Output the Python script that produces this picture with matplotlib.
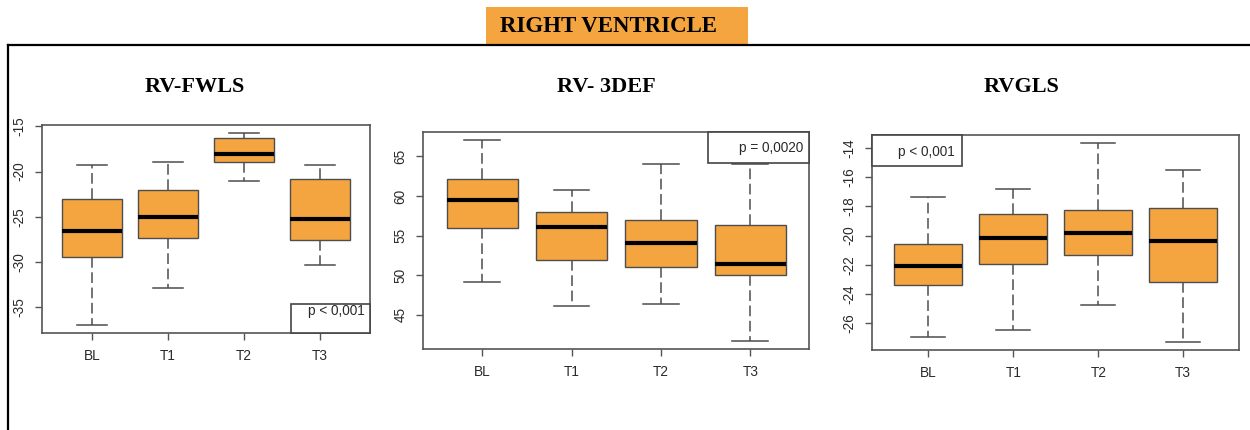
import matplotlib
matplotlib.use('Agg')
import matplotlib.pyplot as plt
from matplotlib.patches import Rectangle
from matplotlib.lines import Line2D

# time points
groups = ['BL', 'T1', 'T2', 'T3']

# RV-FWLS
fwls_whislo = [-37.0, -32.9, -21.0, -30.3]
fwls_q1 = [-29.4, -27.3, -18.95, -27.6]
fwls_med = [-26.6, -25.0, -18.0, -25.2]
fwls_q3 = [-23.0, -22.05, -16.25, -20.8]
fwls_whishi = [-19.3, -18.95, -15.7, -19.3]

# RV- 3DEF
def_whislo = [49.1, 46.05, 46.35, 41.7]
def_q1 = [56.0, 51.9, 51.0, 50.0]
def_med = [59.45, 56.04, 54.05, 51.4]
def_q3 = [62.2, 57.97, 57.0, 56.4]
def_whishi = [67.1, 60.8, 64.1, 64.1]

# RVGLS
gls_whislo = [-26.97, -26.49, -24.78, -27.29]
gls_q1 = [-23.36, -21.95, -21.3, -23.2]
gls_med = [-22.1, -20.17, -19.83, -20.4]
gls_q3 = [-20.55, -18.52, -18.23, -18.11]
gls_whishi = [-17.36, -16.79, -13.66, -15.53]

titles = ['RV-FWLS', 'RV- 3DEF', 'RVGLS']
pvals = ['p < 0,001', 'p = 0,0020', 'p < 0,001']
yticks = [[-15, -20, -25, -30, -35],
          [65, 60, 55, 50, 45],
          [-14, -16, -18, -20, -22, -24, -26]]

orange = '#f4a540'
W, H = 1250.0, 430.0


def make_stats(lo, q1, med, q3, hi):
    stats = []
    for i in range(len(groups)):
        stats.append({'label': groups[i], 'whislo': lo[i], 'q1': q1[i],
                      'med': med[i], 'q3': q3[i], 'whishi': hi[i], 'fliers': []})
    return stats


def px(x0, y0, x1, y1):
    # pixel box -> figure fraction rect
    return [x0 / W, 1 - y1 / H, (x1 - x0) / W, (y1 - y0) / H]


fig = plt.figure(figsize=(12.5, 4.3), dpi=100)

# outer frame and header
fig.add_artist(Line2D([8 / W, 1.0], [1 - 44.5 / H] * 2, color='black', lw=1.6))
fig.add_artist(Line2D([8 / W] * 2, [0, 1 - 44.5 / H], color='black', lw=1.6))
fig.add_artist(Rectangle((486 / W, 1 - 44 / H), 262 / W, 37.3 / H,
                         facecolor=orange, edgecolor='none'))
fig.text(608 / W, 1 - 26.5 / H, 'RIGHT VENTRICLE', ha='center', va='center',
         fontsize=16.5, fontweight='bold', family='Liberation Serif')

panels = [
    (make_stats(fwls_whislo, fwls_q1, fwls_med, fwls_q3, fwls_whishi), px(42, 125, 370, 333)),
    (make_stats(def_whislo, def_q1, def_med, def_q3, def_whishi), px(423.3, 131.7, 809.3, 349)),
    (make_stats(gls_whislo, gls_q1, gls_med, gls_q3, gls_whishi), px(872.3, 135, 1239.3, 350)),
]
title_x = [195, 606, 1022]

# p-value box: (x0, y0, w, h) in axes fraction, text x, text y
pbox = [
    ((0.758, 0.0, 0.242, 0.141), 0.985, 0.107),
    ((0.738, 0.857, 0.262, 0.143), 0.984, 0.926),
    ((0.0, 0.857, 0.245, 0.143), 0.225, 0.922),
]

for k, (stats, rect) in enumerate(panels):
    ax = fig.add_axes(rect)
    ax.bxp(stats, positions=[1, 2, 3, 4], widths=0.8, capwidths=0.4,
           patch_artist=True, showfliers=False,
           boxprops=dict(facecolor=orange, edgecolor='#4d4d4d', lw=1.0),
           medianprops=dict(color='black', lw=3.0, solid_capstyle='butt'),
           whiskerprops=dict(color='#4d4d4d', lw=1.1, linestyle=(0, (7, 3))),
           capprops=dict(color='#4d4d4d', lw=1.1))
    lo = min(s['whislo'] for s in stats)
    hi = max(s['whishi'] for s in stats)
    pad = 0.04 * (hi - lo)
    ax.set_ylim(lo - pad, hi + pad)
    ax.set_xlim(0.34, 4.66)
    ax.set_yticks(yticks[k])
    ax.set_yticklabels([str(v) for v in yticks[k]], rotation=90, va='center')
    ax.set_xticks([1, 2, 3, 4])
    ax.set_xticklabels(groups)
    ax.tick_params(axis='both', direction='out', length=5, width=1.0,
                   color='#555555', labelsize=9.8, labelcolor='#2a2a2a')
    ax.tick_params(axis='x', pad=6.5)
    ax.tick_params(axis='y', pad=6.5)
    for lab in ax.get_xticklabels() + ax.get_yticklabels():
        lab.set_family('Liberation Sans')
    for sp in ax.spines.values():
        sp.set_color('#555555')
        sp.set_linewidth(1.2)

    (bx, by, bw, bh), tx, ty = pbox[k]
    ax.add_patch(Rectangle((bx, by), bw, bh, transform=ax.transAxes,
                           facecolor='white', edgecolor='#444444', lw=1.2,
                           clip_on=False, zorder=5))
    ax.text(tx, ty, pvals[k], transform=ax.transAxes, ha='right', va='center',
            fontsize=9.8, color='#2a2a2a', family='Liberation Sans', zorder=6)

    fig.text(title_x[k] / W, 1 - 87 / H, titles[k], ha='center', va='center',
             fontsize=16, fontweight='bold', family='Liberation Serif')

fig.savefig('out.png', dpi=100)
